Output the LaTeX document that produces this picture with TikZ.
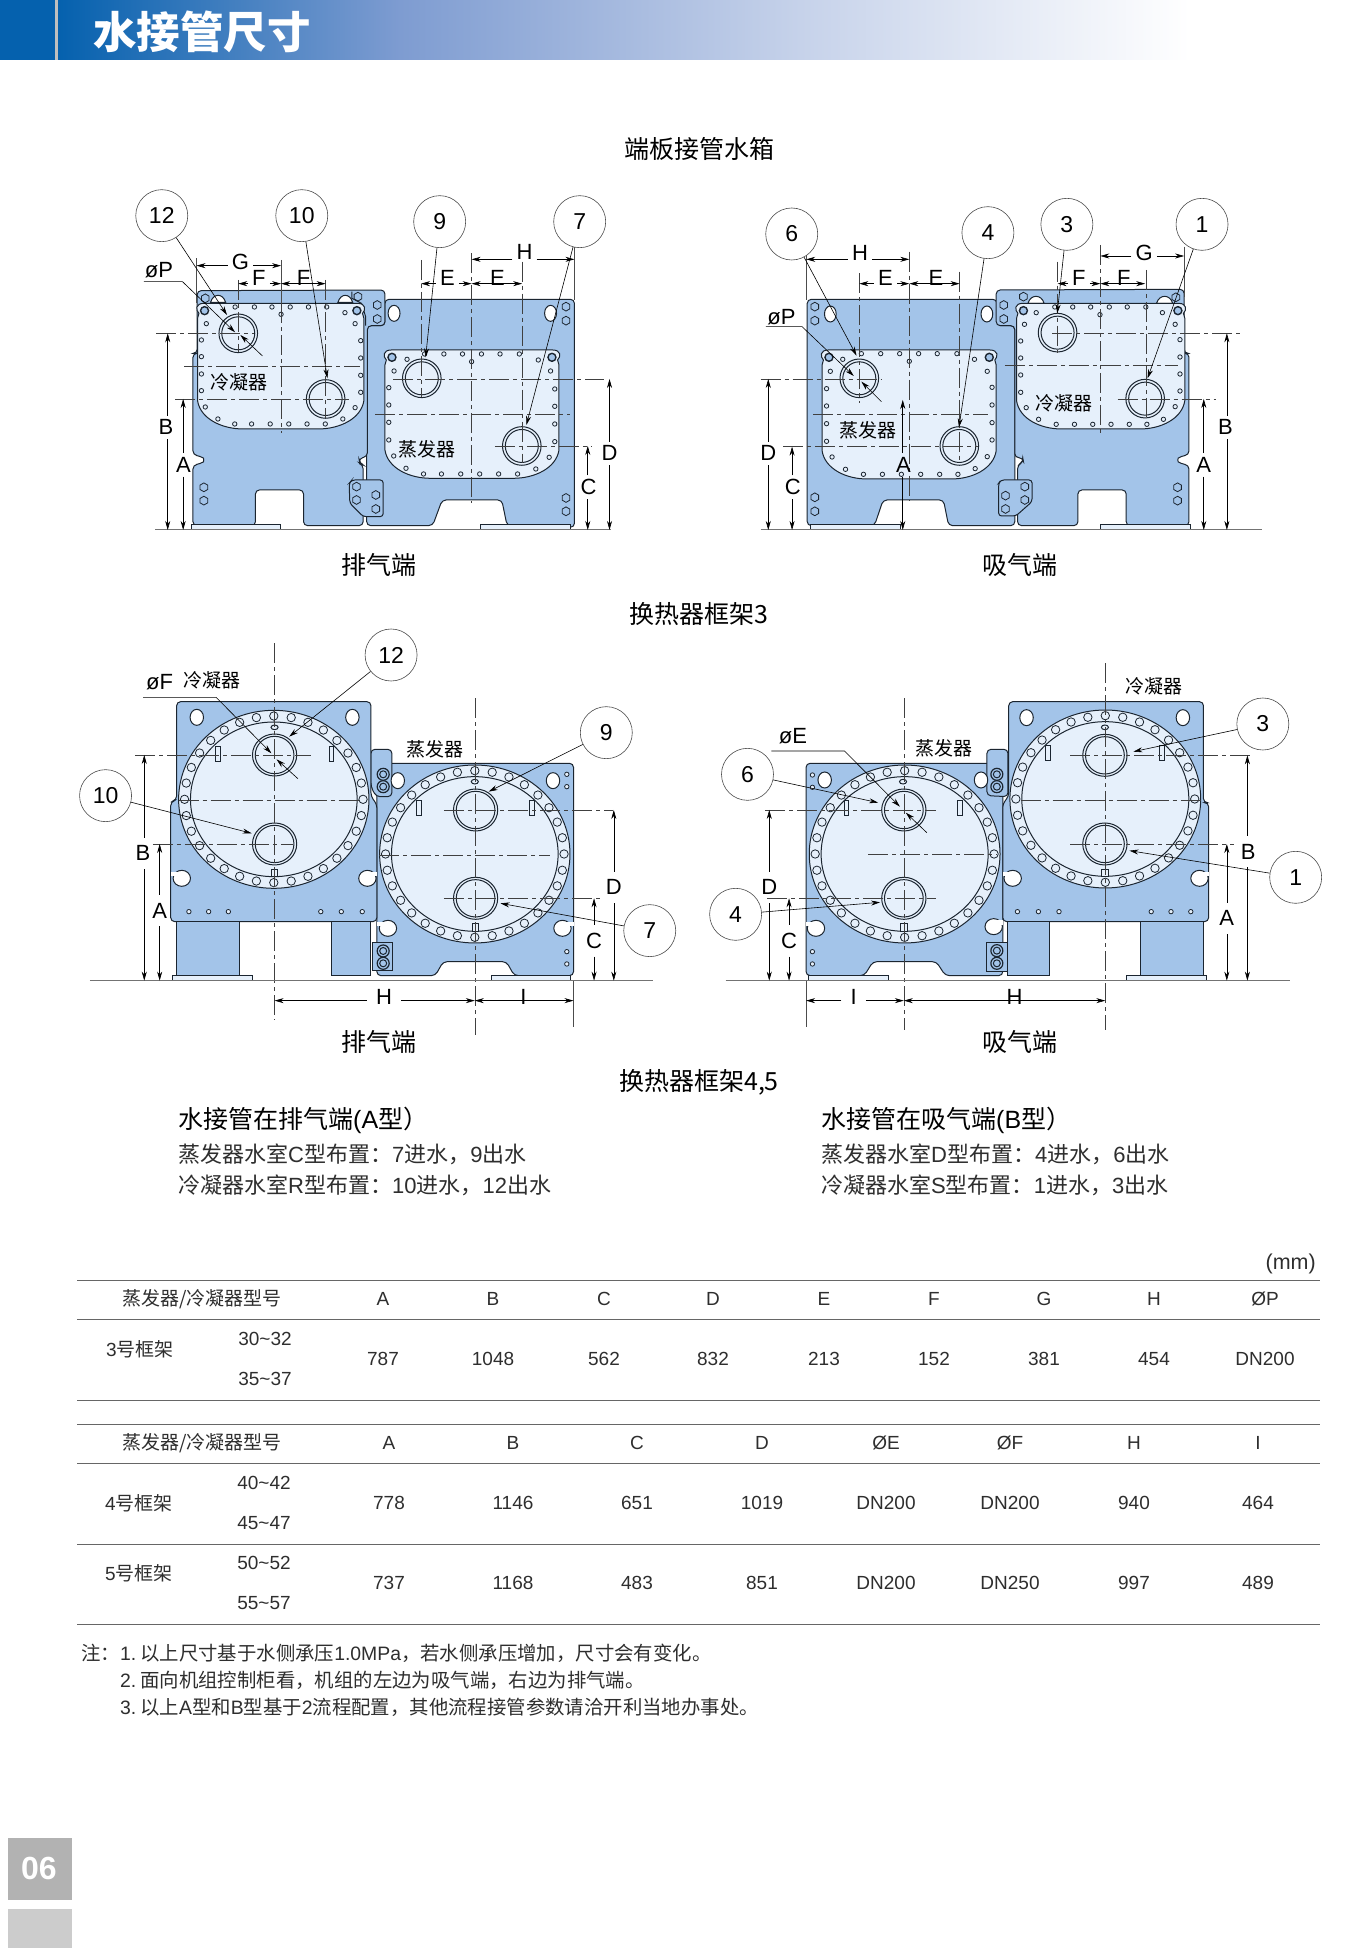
\documentclass[tikz,border=0pt]{standalone}
\usepackage{fontspec}
\usetikzlibrary{arrows.meta}
\setmainfont{Liberation Sans}
\newfontfamily\cjk{Noto Sans CJK SC}
\newcommand{\zh}[1]{{\cjk #1}}
\newcommand{\fs}[1]{\fontsize{#1}{#1}\selectfont}
\definecolor{plateblue}{HTML}{A3C4E9}
\definecolor{panelblue}{HTML}{E6F0FB}
\definecolor{frameblk}{HTML}{1B2530}
\definecolor{headblue}{HTML}{0561AE}
\definecolor{headmid}{HTML}{7E9CD1}
\definecolor{headpale}{HTML}{C6D2EA}
\definecolor{bodygray}{HTML}{2E2E2E}
\tikzset{
    plate/.style={draw=frameblk, fill=plateblue, line width=1pt, rounded corners=4pt},
    panel/.style={draw=frameblk, fill=panelblue, line width=1pt},
    cline/.style={draw=black!75, line width=0.6pt, dash pattern=on 20pt off 4pt on 4pt off 4pt},
    extline/.style={draw=black!70, line width=0.6pt},
    groundline/.style={draw=black!55, line width=1pt},
    tableline/.style={draw=black!60, line width=1pt},
    dimarrow/.style={-{Stealth[length=9pt,width=5pt]}, black, line width=0.6pt},
    dimtext/.style={font=\fs{22}, inner xsep=4pt, inner ysep=4pt},
    balloon/.style={circle, draw=black!70, line width=0.6pt, fill=white, minimum size=52pt, inner sep=0pt, font=\fs{23}},
    tagtext/.style={font=\fs{19}\cjk, inner sep=0pt},
    headtext/.style={font=\fs{25}\cjk, inner sep=0pt},
    celltext/.style={font=\fs{19}, text=bodygray, inner sep=0pt},
    bodytext/.style={font=\fs{22}, text=bodygray, inner sep=0pt, anchor=west},
    notetext/.style={font=\fs{19.4}, text=bodygray, inner sep=0pt, anchor=west}
}
\begin{document}
\begin{tikzpicture}[x=1pt, y=-1pt]

    \newcommand{\bolt}[2]{
        \draw[panel, line width=0.8pt] (#1,#2) circle (2.2pt);
    }
    \newcommand{\hexbolt}[2]{
        \draw[frameblk, line width=0.8pt] (#1,#2) +(30:4.4pt) -- +(90:4.4pt) -- +(150:4.4pt) -- +(210:4.4pt) -- +(270:4.4pt) -- +(330:4.4pt) -- cycle;
    }
    \newcommand{\dbolt}[2]{
        \draw[panel, line width=1.2pt, fill=plateblue] (#1,#2) circle (6pt);
        \draw[panel, line width=1pt, fill=plateblue] (#1,#2) circle (3.5pt);
    }
    \newcommand{\flatpipe}[2]{
        \draw[panel] (#1,#2) circle (19.3pt);
        \draw[panel] (#1,#2) circle (16.5pt);
    }
    \newcommand{\roundpipe}[2]{
        \draw[panel] (#1,#2) ellipse (56 and 63);
        \draw[panel] (#1,#2) ellipse (49 and 56);
    }
    \newcommand{\oblong}[2]{
        \draw[panel, fill=white] (#1,#2) ellipse (17 and 24);
    }
    % left, right, top, bottom of a water box
    \newcommand{\boxpanel}[4]{
        \draw[panel] (#1,#3+45) -- (#1,#4-85) .. controls ({#1+8},#4-30) and ({#1+70},#4) .. ({#1+130},#4)
            -- ({#2-130},#4) .. controls ({#2-70},#4) and ({#2-8},#4-30) .. (#2,#4-85)
            -- (#2,#3+45) -- ({#2-4},#3+30) .. controls ({#2+6},#3+20) and ({#2+6},#3) .. ({#2-18},#3)
            -- ({#1+18},#3) .. controls ({#1-6},#3) and ({#1-6},#3+20) .. ({#1+4},#3+30) -- cycle;
        \draw[panel, line width=1.4pt, fill=plateblue] ({#1+20},#3+22) circle (4pt);
        \draw[panel, line width=1.4pt, fill=plateblue] ({#2-20},#3+22) circle (4pt);
    }
    \newcommand{\crescent}[3]{
        \draw[panel, fill=white] (#1,#3) .. controls ({#1+8},#3-28) and ({#2-8},#3-28) .. (#2,#3) -- cycle;
    }
    \newcommand{\flange}[2]{
        \draw[panel] (#1,#2) ellipse (241 and 267);
        \draw[panel] (#1,#2) ellipse (211 and 232);
        \foreach \i in {0,...,31}
            \draw[panel, line width=0.8pt] ({#1+226*cos(90+\i*11.25)},{#2+250*sin(90+\i*11.25)}) circle (4.2pt);
    }
    \newcommand{\slotmark}[2]{
        \draw[panel] (#1-6,#2-23) rectangle (#1+6,#2+23);
    }
    \newcommand{\keymark}[2]{
        \draw[panel] (#1-8,#2-11) rectangle (#1+8,#2+11);
    }
    \newcommand{\capmark}[2]{
        \draw[panel] (#1,#2) ellipse (9 and 7);
    }
    % x, y, edge of the plate
    \newcommand{\keyhole}[3]{
        \draw[panel, fill=white] (#1,#2) ellipse (22 and 24);
        \fill[white] (#3,#2-20) rectangle (#1,#2-6);
    }
    % name, x, y, text, tip x, tip y
    \newcommand{\tagball}[6]{
        \node[balloon] (#1) at (#2,#3) {#4};
        \coordinate (#1 tip) at (#5,#6);
        \draw[dimarrow] (#1) -- (#1 tip);
    }
    % name, xa, xb, y, label x, label y, text
    \newcommand{\dimH}[7]{
        \node[dimtext] (#1) at (#5,#6) {#7};
        \coordinate (#1 a) at (#2,#4);
        \coordinate (#1 b) at (#3,#4);
        \draw[dimarrow] (#1.west |- #1 a) -- (#1 a);
        \draw[dimarrow] (#1.east |- #1 b) -- (#1 b);
    }
    % name, x, ya, yb, label x, label y, text
    \newcommand{\dimV}[7]{
        \node[dimtext] (#1) at (#5,#6) {#7};
        \coordinate (#1 a) at (#2,#3);
        \coordinate (#1 b) at (#2,#4);
        \draw[dimarrow] (#1.north -| #1 a) -- (#1 a);
        \draw[dimarrow] (#1.south -| #1 b) -- (#1 b);
    }
    % bore leader: start, knee, tip, then the tail and its tip
    \newcommand{\boreline}[9]{
        \coordinate (bore a) at (#1,#2);
        \coordinate (bore b) at (#3,#2);
        \coordinate (bore c) at (#4,#5);
        \coordinate (bore d) at (#6,#7);
        \coordinate (bore e) at (#8,#9);
        \draw[dimarrow] (bore a) -- (bore b) -- (bore c);
        \draw[dimarrow] (bore d) -- (bore e);
    }

    \useasboundingbox (0,0) rectangle (1345,1948);
    \fill[white] (0,0) rectangle (1345,1948);

    % Header
    \fill[headblue] (0,0) rectangle (55,60);
    \fill[black!25] (55,0) rectangle (58,60);
    \shade[left color=headblue, right color=headmid] (58,0) rectangle (400,60);
    \shade[left color=headmid, right color=headpale] (400,0) rectangle (800,60);
    \shade[left color=headpale, right color=white] (800,0) rectangle (1190,60);
    \node[anchor=west, inner sep=0pt, text=white, font=\fs{43.5}\cjk\bfseries] (pagehead) at (93,32) {水接管尺寸};

    % Captions
    \node[headtext] (capA) at (699,149) {端板接管水箱};
    \node[headtext] (capB) at (379,565) {排气端};
    \node[headtext] (capC) at (1020,565) {吸气端};
    \node[headtext] (capD) at (699,614) {换热器框架3};
    \node[headtext] (capE) at (379,1042) {排气端};
    \node[headtext] (capF) at (1020,1042) {吸气端};
    \node[headtext] (capG) at (699,1082) {换热器框架4,5};

    %% Water box, discharge end
    \begin{scope}[shift={(100,170)}, x=0.3509pt, y=-0.3333pt]
        \draw[plate] (760,1067) -- (760,467) -- (812,467) -- (812,388) -- (1352,388) -- (1352,1072) -- (1160,1067)
            -- (1145,990) -- (975,990) -- (948,1067) -- cycle;
        \draw[plate] (265,1067) -- (265,885) -- (285,882) .. controls (296,875) and (296,865) .. (285,858) -- (265,855) -- (265,550) -- (277,550) -- (277,362) -- (812,360) -- (812,467) -- (762,467)
            -- (762,860) -- (738,865) -- (740,880) -- (750,885) -- (750,1067) -- (580,1067) -- (580,960) -- (443,960) -- (443,1067) -- cycle;
        \draw[panel] (260,1065) rectangle (515,1080);
        \draw[panel] (1085,1065) rectangle (1342,1080);
        \draw[frameblk, line width=1pt] (718,365) -- (718,385) -- (745,400) -- (757,440) -- (757,467);
        \draw[plate, rounded corners=3pt] (710,940) -- (718,930) -- (807,930) -- (807,1040) -- (750,1040) -- (712,1000) -- cycle;
        \foreach \x/\y in {731/950,731/990,786/975,786/1017,735/380,790/405,790/447,1328/410,1328/452,1328/984,1328/1024,296/952,296/992,300/385} {
            \hexbolt{\x}{\y}
        }
        \crescent{315}{358}{397}
        \crescent{678}{720}{397}
        \oblong{838}{430}
        \oblong{1284}{430}
        % Condenser box
        \boxpanel{278}{752}{400}{777}
        \foreach \x in {385,440,490,542,594,646} {
            \bolt{\x}{411}
        }
        \foreach \x in {384,432,485,538,590,642} {
            \bolt{\x}{762}
        }
        \foreach \y in {510,560,612,662} {
            \bolt{289}{\y}
        }
        \foreach \y in {512,564,616,667} {
            \bolt{743}{\y}
        }
        \foreach \x/\y in {516/433,698/428,303/461,300/711,336/747,692/747,727/713,727/461} {
            \bolt{\x}{\y}
        }
        \flatpipe{394}{490}
        \flatpipe{643}{687}
        % Evaporator box
        \boxpanel{812}{1308}{540}{925}
        \foreach \x in {925,980,1033,1087,1140,1195} {
            \bolt{\x}{552}
        }
        \foreach \x in {922,973,1028,1082,1136,1190} {
            \bolt{\x}{912}
        }
        \foreach \y in {653,705,757,810} {
            \bolt{823}{\y}
        }
        \foreach \y in {657,709,762,815} {
            \bolt{1296}{\y}
        }
        \foreach \x/\y in {1059/575,875/568,1249/570,838/603,1284/603,837/858,872/895,1242/897,1280/862} {
            \bolt{\x}{\y}
        }
        \flatpipe{917}{625}
        \flatpipe{1202}{828}
        % Centre lines
        \foreach \x/\ya/\yb in {394/330/545,516/400/790,643/330/745,915/270/680,1059/250/1000,1203/275/880}
            \draw[cline] (\x,\ya) -- (\x,\yb);
        \foreach \y/\xa/\xb in {490/160/440,588/240/740,687/215/710,627/835/1435,732/785/1340,828/1125/1400}
            \draw[cline] (\xa,\y) -- (\xb,\y);
        \draw[extline] (275,265) -- (275,400);
        \draw[extline] (516,270) -- (516,400);
        \draw[extline] (1352,230) -- (1352,390);
        \draw[groundline] (158,1080) -- (1455,1080);
        % Dimensions
        \dimH{G}{275}{516}{287}{400}{277}{G}
        \dimH{Fa}{394}{516}{341}{453}{325}{F}
        \dimH{Fb}{643}{516}{341}{580}{325}{F}
        \dimH{Ea}{915}{1059}{341}{990}{325}{E}
        \dimH{Eb}{1203}{1059}{341}{1133}{325}{E}
        \dimH{H}{1059}{1352}{268}{1210}{247}{H}
        \dimV{B}{193}{490}{1080}{188}{772}{B}
        \dimV{A}{237}{687}{1080}{238}{885}{A}
        \dimV{D}{1452}{627}{1080}{1452}{850}{D}
        \dimV{C}{1390}{828}{1080}{1392}{952}{C}
        \node[dimtext] (dP) at (168,300) {øP};
        \boreline{125}{335}{235}{385}{487}{463}{558}{400}{495}
        \node[tagtext] (cond) at (395,638) {冷凝器};
        \node[tagtext] (evap) at (932,838) {蒸发器};
        % Balloons
        \tagball{b12}{176}{137}{12}{362}{435}
        \tagball{b10}{575}{137}{10}{648}{625}
        \tagball{b9}{968}{155}{9}{928}{562}
        \tagball{b7}{1367}{155}{7}{1215}{765}
    \end{scope}

    %% Water box, suction end
    \begin{scope}[shift={(740,190)}, x=0.3448pt, y=-0.3333pt]
        \draw[plate] (195,1007) -- (195,328) -- (745,328) -- (745,407) -- (797,407) -- (797,1007) -- (605,1007)
            -- (590,930) -- (415,930) -- (390,1007) -- cycle;
        \draw[plate] (805,1007) -- (805,825) -- (822,815) -- (820,803) -- (797,803) -- (797,407) -- (743,407) -- (743,300) -- (1288,298) -- (1288,490) -- (1302,490)
            -- (1302,795) -- (1280,798) .. controls (1270,805) and (1270,815) .. (1280,822) -- (1302,825) -- (1302,1007) -- (1120,1007) -- (1120,900) -- (980,900) -- (980,1007) -- cycle;
        \draw[panel] (205,1005) rectangle (465,1020);
        \draw[panel] (1046,1005) rectangle (1306,1020);
        \draw[plate, rounded corners=3pt] (750,880) -- (757,870) -- (847,870) -- (847,935) -- (800,978) -- (750,978) -- cycle;
        \foreach \x/\y in {770/917,770/957,826/890,826/930,765/345,765/387,822/320,217/350,217/392,217/922,217/964,1269/892,1269/932,1264/322} {
            \hexbolt{\x}{\y}
        }
        \crescent{835}{882}{340}
        \crescent{1208}{1255}{340}
        \oblong{262}{372}
        \oblong{716}{372}
        % Evaporator box
        \boxpanel{238}{743}{480}{867}
        \foreach \x in {352,408,463,518,572,629} {
            \bolt{\x}{491}
        }
        \foreach \x in {358,413,468,524,579,632} {
            \bolt{\x}{853}
        }
        \foreach \y in {596,648,701,754} {
            \bolt{251}{\y}
        }
        \foreach \y in {592,645,698,750} {
            \bolt{731}{\y}
        }
        \foreach \x/\y in {491/514,298/508,680/508,262/544,717/544,267/801,306/838,682/836,717/800} {
            \bolt{\x}{\y}
        }
        \flatpipe{346}{565}
        \flatpipe{636}{768}
        % Condenser box
        \boxpanel{802}{1290}{340}{717}
        \foreach \x in {913,965,1017,1071,1123,1177} {
            \bolt{\x}{351}
        }
        \foreach \x in {917,970,1023,1076,1129,1180} {
            \bolt{\x}{703}
        }
        \foreach \y in {453,504,555,607} {
            \bolt{814}{\y}
        }
        \foreach \y in {449,501,552,603} {
            \bolt{1276}{\y}
        }
        \foreach \x/\y in {1044/374,859/368,1225/368,825/403,1262/403,830/653,866/688,1228/688,1262/650} {
            \bolt{\x}{\y}
        }
        \flatpipe{921}{428}
        \flatpipe{1175}{626}
        % Centre lines
        \foreach \x/\ya/\yb in {346/250/640,491/185/930,637/245/820,921/215/490,1045/165/730,1177/240/680}
            \draw[cline] (\x,\ya) -- (\x,\yb);
        \foreach \y/\xa/\xb in {567/60/410,672/213/720,768/125/690,430/905/1455,527/768/1270,627/1095/1380}
            \draw[cline] (\xa,\y) -- (\xb,\y);
        \draw[extline] (192,195) -- (192,330);
        \draw[extline] (1288,170) -- (1288,320);
        \draw[groundline] (60,1020) -- (1515,1020);
        % Dimensions
        \dimH{H}{192}{491}{208}{348}{188}{H}
        \dimH{Ea}{346}{491}{281}{422}{265}{E}
        \dimH{Eb}{637}{491}{281}{568}{265}{E}
        \dimH{G}{1045}{1288}{198}{1172}{188}{G}
        \dimH{Fa}{921}{1045}{281}{983}{263}{F}
        \dimH{Fb}{1175}{1045}{281}{1113}{263}{F}
        \dimV{D}{82}{567}{1020}{82}{790}{D}
        \dimV{C}{151}{770}{1020}{153}{892}{C}
        \dimV{Aa}{472}{630}{1020}{474}{825}{A}
        \dimV{B}{1412}{430}{1020}{1408}{712}{B}
        \dimV{Ab}{1345}{627}{1020}{1345}{825}{A}
        \node[dimtext] (dP) at (120,380) {øP};
        \boreline{75}{410}{180}{330}{558}{410}{635}{352}{575}
        \node[tagtext] (evap) at (370,722) {蒸发器};
        \node[tagtext] (cond) at (940,640) {冷凝器};
        % Balloons
        \tagball{b6}{150}{132}{6}{338}{497}
        \tagball{b4}{719}{128}{4}{635}{712}
        \tagball{b3}{948}{103}{3}{920}{370}
        \tagball{b1}{1340}{103}{1}{1182}{565}
    \end{scope}

    %% Frame 3, discharge end
    \begin{scope}[shift={(72,620)}, x=0.3949pt, y=-0.3333pt, dimtext/.append style={inner xsep=9pt, inner ysep=8pt}]
        \draw[plate] (772,1067) -- (772,430) -- (1270,430) -- (1270,1067) -- (1120,1067) -- (1100,1025) -- (940,1025) -- (920,1067) -- cycle;
        \draw[plate] (757,388) -- (810,388) -- (810,530) -- (770,530) -- (757,500) -- cycle;
        \draw[plate] (250,905) -- (250,545) -- (265,540) -- (265,245) -- (757,245) -- (757,530) -- (772,552) -- (772,905) -- cycle;
        \draw[plate, rounded corners=0pt] (265,905) rectangle (423,1067);
        \draw[plate, rounded corners=0pt] (656,905) rectangle (757,1067);
        \draw[panel] (255,1067) rectangle (458,1082);
        \draw[panel] (1062,1067) rectangle (1262,1082);
        \draw[plate, rounded corners=0pt] (760,968) rectangle (812,1053);
        \foreach \x/\y in {788/993,788/1030,788/463,788/500} {
            \dbolt{\x}{\y}
        }
        \foreach \x in {296,346,396,630,682,735} {
            \bolt{\x}{875}
        }
        \foreach \x/\y in {1253/463,1253/500,1253/995,1253/1032} {
            \bolt{\x}{\y}
        }
        \oblong{316}{292}
        \oblong{710}{292}
        \oblong{825}{482}
        \oblong{1218}{482}
        \keyhole{278}{775}{250}
        \keyhole{748}{775}{772}
        \keyhole{800}{925}{772}
        \keyhole{1242}{925}{1270}
        % Condenser
        \flange{511}{538}
        \roundpipe{513}{405}
        \roundpipe{513}{672}
        \slotmark{370}{402}
        \slotmark{657}{402}
        \keymark{513}{760}
        \capmark{513}{322}
        % Evaporator
        \flange{1020}{702}
        \roundpipe{1022}{570}
        \roundpipe{1022}{835}
        \slotmark{878}{565}
        \slotmark{1165}{565}
        \keymark{1021}{923}
        \capmark{1020}{485}
        % Centre lines
        \foreach \x/\ya/\yb in {513/70/1200,1021/235/1245}
            \draw[cline] (\x,\ya) -- (\x,\yb);
        \foreach \y/\xa/\xb in {405/160/605,540/270/730,672/205/560,570/942/1370,705/778/1210,835/942/1340}
            \draw[cline] (\xa,\y) -- (\xb,\y);
        \draw[extline] (1270,1082) -- (1270,1222);
        \draw[groundline] (45,1082) -- (1470,1082);
        % Dimensions
        \dimV{B}{183}{405}{1082}{180}{700}{B}
        \dimV{A}{222}{672}{1082}{222}{872}{A}
        \dimV{D}{1372}{570}{1082}{1372}{802}{D}
        \dimV{C}{1322}{835}{1082}{1322}{962}{C}
        \dimH{H}{513}{1020}{1142}{790}{1132}{H}
        \dimH{I}{1270}{1020}{1142}{1143}{1132}{I}
        \node[dimtext] (dF) at (222,185) {øF};
        \boreline{180}{232}{365}{505}{400}{572}{476}{518}{418}
        \node[tagtext] (cond) at (355,182) {冷凝器};
        \node[tagtext] (evap) at (920,387) {蒸发器};
        % Balloons
        \tagball{b12}{808}{105}{12}{550}{350}
        \tagball{b10}{85}{527}{10}{455}{640}
        \tagball{b9}{1353}{338}{9}{1055}{515}
        \tagball{b7}{1463}{932}{7}{1085}{850}
    \end{scope}

    %% Frame 3, suction end
    \begin{scope}[shift={(700,650)}, x=0.3958pt, y=-0.3333pt, dimtext/.append style={inner xsep=9pt, inner ysep=8pt}]
        \draw[plate] (268,977) -- (268,340) -- (765,340) -- (765,977) -- (620,977) -- (597,935) -- (437,935) -- (415,977) -- cycle;
        \draw[plate] (725,298) -- (778,298) -- (778,440) -- (725,437) -- cycle;
        \draw[plate] (765,815) -- (765,460) -- (780,440) -- (780,155) -- (1272,155) -- (1272,458) -- (1285,458) -- (1285,815) -- cycle;
        \draw[plate, rounded corners=0pt] (778,815) rectangle (882,977);
        \draw[plate, rounded corners=0pt] (1114,815) rectangle (1272,977);
        \draw[panel] (275,977) rectangle (475,992);
        \draw[panel] (1078,977) rectangle (1280,992);
        \draw[plate, rounded corners=0pt] (725,878) rectangle (777,965);
        \foreach \x/\y in {750/373,750/410,750/902,750/940} {
            \dbolt{\x}{\y}
        }
        \foreach \x in {802,855,907,1140,1190,1240} {
            \bolt{\x}{785}
        }
        \foreach \x/\y in {284/375,284/412,284/905,284/942} {
            \bolt{\x}{\y}
        }
        \oblong{825}{203}
        \oblong{1220}{203}
        \oblong{315}{390}
        \oblong{710}{390}
        \keyhole{293}{835}{268}
        \keyhole{742}{830}{765}
        \keyhole{790}{685}{765}
        \keyhole{1262}{685}{1285}
        % Condenser
        \flange{1024}{447}
        \roundpipe{1023}{316}
        \roundpipe{1023}{582}
        \slotmark{880}{310}
        \slotmark{1167}{310}
        \keymark{1023}{670}
        \capmark{1023}{232}
        % Evaporator
        \flange{517}{612}
        \roundpipe{515}{480}
        \roundpipe{515}{745}
        \slotmark{370}{475}
        \slotmark{657}{475}
        \keymark{515}{833}
        \capmark{513}{395}
        % Centre lines
        \foreach \x/\ya/\yb in {1024/40/1140,515/145/1140}
            \draw[cline] (\x,\ya) -- (\x,\yb);
        \foreach \y/\xa/\xb in {316/935/1395,450/810/1270,582/935/1350,480/165/595,614/425/750,745/170/595}
            \draw[cline] (\xa,\y) -- (\xb,\y);
        \draw[extline] (268,992) -- (268,1132);
        \draw[groundline] (65,992) -- (1490,992);
        % Dimensions
        \dimV{D}{175}{480}{992}{175}{712}{D}
        \dimV{C}{225}{745}{992}{225}{872}{C}
        \dimV{B}{1383}{316}{992}{1385}{605}{B}
        \dimV{A}{1331}{582}{992}{1331}{805}{A}
        \dimH{I}{268}{515}{1052}{388}{1040}{I}
        \dimH{H}{1024}{515}{1052}{795}{1040}{H}
        \node[dimtext] (dE) at (235,258) {øE};
        \boreline{180}{303}{365}{505}{470}{573}{548}{520}{488}
        \node[tagtext] (evap) at (617,296) {蒸发器};
        \node[tagtext] (cond) at (1148,110) {冷凝器};
        % Balloons
        \tagball{b3}{1422}{222}{3}{1095}{305}
        \tagball{b1}{1505}{682}{1}{1085}{602}
        \tagball{b6}{120}{373}{6}{450}{458}
        \tagball{b4}{90}{793}{4}{455}{757}
    \end{scope}

    % Arrangement notes
    \node[anchor=west, inner sep=0pt, font=\fs{25}] (armA) at (178,1120) {\zh{水接管在排气端}(A\zh{型}\zh{）}};
    \node[bodytext] (armAa) at (178,1154) {\zh{蒸发器水室}C\zh{型布置：}7\zh{进水，}9\zh{出水}};
    \node[bodytext] (armAb) at (178,1185) {\zh{冷凝器水室}R\zh{型布置：}10\zh{进水，}12\zh{出水}};
    \node[anchor=west, inner sep=0pt, font=\fs{25}] (armB) at (821,1120) {\zh{水接管在吸气端}(B\zh{型}\zh{）}};
    \node[bodytext] (armBa) at (821,1154) {\zh{蒸发器水室}D\zh{型布置：}4\zh{进水，}6\zh{出水}};
    \node[bodytext] (armBb) at (821,1185) {\zh{冷凝器水室}S\zh{型布置：}1\zh{进水，}3\zh{出水}};
    \node[anchor=east, inner sep=0pt, font=\fs{21.5}, text=bodygray] (unit) at (1316,1264) {(mm)};

    % Table rules
    \foreach \y in {1280,1319,1400,1424,1463,1544,1624}
        \draw[tableline] (77,\y) -- (1320,\y);

    % Frame 3 table
    \node[celltext] (headA) at (202,1299) {\zh{蒸发器/冷凝器型号}};
    \foreach \x/\lbl/\vala in {383/A/787,493/B/1048,604/C/562,713/D/832,824/E/213,934/F/152,1044/G/381,1154/H/454,1265/ØP/DN200} {
        \node[celltext] at (\x,1299) {\lbl};
        \node[celltext] at (\x,1359) {\vala};
    }
    \node[celltext] (rowA) at (140,1349) {3\zh{号框架}};
    \node[celltext] (sizeAa) at (265,1339) {30\textasciitilde32};
    \node[celltext] (sizeAb) at (265,1379) {35\textasciitilde37};

    % Frame 4,5 table
    \node[celltext] (headB) at (202,1443) {\zh{蒸发器/冷凝器型号}};
    \foreach \x/\lbl/\vala/\valb in {389/A/778/737,513/B/1146/1168,637/C/651/483,762/D/1019/851,886/ØE/DN200/DN200,1010/ØF/DN200/DN250,1134/H/940/997,1258/I/464/489} {
        \node[celltext] at (\x,1443) {\lbl};
        \node[celltext] at (\x,1503) {\vala};
        \node[celltext] at (\x,1583) {\valb};
    }
    \node[celltext] (rowB) at (139,1503) {4\zh{号框架}};
    \node[celltext] (rowC) at (139,1573) {5\zh{号框架}};
    \node[celltext] (sizeBa) at (264,1483) {40\textasciitilde42};
    \node[celltext] (sizeBb) at (264,1523) {45\textasciitilde47};
    \node[celltext] (sizeCa) at (264,1563) {50\textasciitilde52};
    \node[celltext] (sizeCb) at (264,1603) {55\textasciitilde57};

    % Notes
    \node[notetext] (noteMark) at (81,1653) {\zh{注：}};
    \node[notetext] (noteA) at (120,1653) {1.\hspace{0.2em}\zh{以上尺寸基于水侧承压}1.0MPa\zh{，若水侧承压增加，尺寸会有变化。}};
    \node[notetext] (noteB) at (120,1680) {2.\hspace{0.2em}\zh{面向机组控制柜看，机组的左边为吸气端，右边为排气端。}};
    \node[notetext] (noteC) at (120,1707) {3.\hspace{0.2em}\zh{以上}A\zh{型和}B\zh{型基于}2\zh{流程配置，其他流程接管参数请洽开利当地办事处。}};

    % Page tab
    \fill[black!30] (8,1838) rectangle (72,1900);
    \fill[black!20] (8,1909) rectangle (72,1948);
    \node[text=white, font=\fs{32}\bfseries, inner sep=0pt] (pageno) at (39,1868) {06};

\end{tikzpicture}
\end{document}
